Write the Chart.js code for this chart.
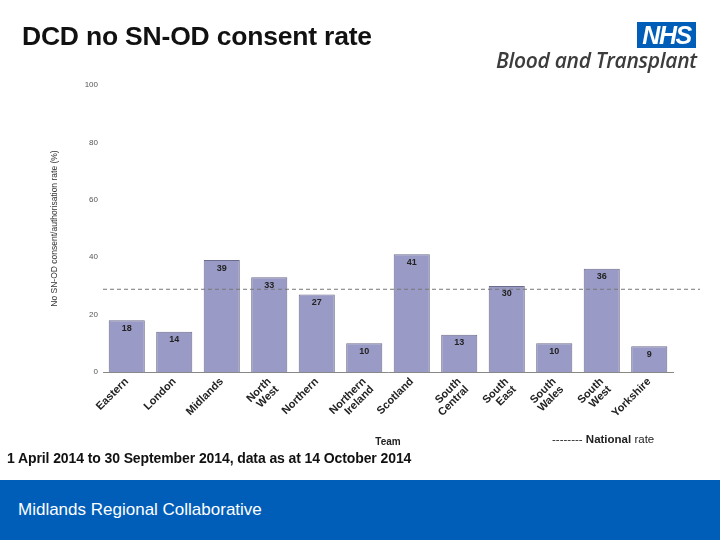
<!DOCTYPE html>
<html>
<head>
<meta charset="utf-8">
<script src="https://cdn.jsdelivr.net/npm/chart.js@4"></script>
<style>
  html, body { margin: 0; padding: 0; background: #fff; }
  body { width: 720px; height: 540px; position: relative; overflow: hidden; font-family: "Liberation Sans", Arial, sans-serif; }
  #chart { position: absolute; left: 0; top: 0; }
  .title { position: absolute; left: 22px; top: 21px; font-size: 26.5px; font-weight: bold; color: #111; letter-spacing: -0.2px; }
  .nhs { position: absolute; left: 637px; top: 22px; width: 59px; height: 26px; background: #005eb8; color: #fff;
         font: italic bold 25px "Liberation Sans", Arial, sans-serif; line-height: 27px; text-align: center; letter-spacing: -1.5px; }
  .bt { position: absolute; left: 496px; top: 46px; font: italic 600 21px "Open Sans", sans-serif; color: #3c3c3c; letter-spacing: -0.3px; }
  .legend { position: absolute; left: 552px; top: 433px; font-size: 11.5px; color: #222; }
  .legend b { font-weight: bold; }
  .sub { position: absolute; left: 7px; top: 450px; font-size: 14px; font-weight: bold; color: #111; letter-spacing: -0.1px; }
  .footer { position: absolute; left: 0; top: 480px; width: 720px; height: 60px; background: #005eb8; }
  .footer span { position: absolute; left: 18px; top: 20px; color: #fff; font-size: 17px; }
</style>
</head>
<body>
<canvas id="chart" width="720" height="540"></canvas>
<div class="title">DCD no SN-OD consent rate</div>
<div class="nhs">NHS</div>
<div class="bt">Blood and Transplant</div>
<div class="legend">-------- <b>National</b> rate</div>
<div class="sub">1 April 2014 to 30 September 2014, data as at 14 October 2014</div>
<div class="footer"><span>Midlands Regional Collaborative</span></div>
<script>
const teams = [['Eastern'], ['London'], ['Midlands'], ['North', 'West'], ['Northern'], ['Northern', 'Ireland'],
  ['Scotland'], ['South', 'Central'], ['South', 'East'], ['South', 'Wales'], ['South', 'West'], ['Yorkshire']];
const rates = [18, 14, 39, 33, 27, 10, 41, 13, 30, 10, 36, 9];
const nationalRate = 29;
const yTicks = [0, 20, 40, 60, 80, 100];

const extras = {
    id: 'extras',
    afterDatasetsDraw(chart) {
        const ctx = chart.ctx;
        const y = chart.scales.y;
        const area = chart.chartArea;
        const meta = chart.getDatasetMeta(0);
        ctx.save();
        ctx.font = 'bold 9px "Liberation Sans", Arial, sans-serif';
        ctx.fillStyle = '#222';
        ctx.textAlign = 'center';
        ctx.textBaseline = 'middle';
        meta.data.forEach((bar, i) => {
            ctx.fillText(rates[i], bar.x, bar.y + 8);
        });
        const ny = y.getPixelForValue(nationalRate);
        ctx.strokeStyle = '#777';
        ctx.lineWidth = 1;
        ctx.setLineDash([4, 3]);
        ctx.beginPath();
        ctx.moveTo(area.left, ny + 0.5);
        ctx.lineTo(area.right + 27, ny + 0.5);
        ctx.stroke();
        ctx.restore();
    }
};

new Chart(document.getElementById('chart'), {
    type: 'bar',
    data: {
        labels: teams,
        datasets: [{
            data: rates,
            backgroundColor: '#9a9ac6',
            borderColor: '#6c6c8c',
            borderWidth: 1,
            borderSkipped: 'bottom',
            categoryPercentage: 1,
            barPercentage: 0.76
        }]
    },
    options: {
        responsive: false,
        animation: false,
        layout: { padding: { left: 50, top: 85, right: 47, bottom: 92 } },
        plugins: { legend: { display: false }, tooltip: { enabled: false } },
        scales: {
            x: {
                grid: { display: false, drawTicks: false },
                border: { color: '#888' },
                ticks: {
                    minRotation: 45, maxRotation: 45, padding: 4,
                    color: '#222', font: { family: '"Liberation Sans", Arial', size: 11, weight: 'bold', lineHeight: 1.0 }
                },
                title: { display: true, text: 'Team', color: '#222', padding: { top: 4, bottom: 0 },
                    font: { family: '"Liberation Sans", Arial', size: 10, weight: 'bold' } },
                afterFit(s) { s.height = 76; }
            },
            y: {
                min: 0, max: 100,
                afterBuildTicks(s) { s.ticks = yTicks.map(v => ({ value: v })); },
                grid: { display: false, drawOnChartArea: false, drawTicks: true, tickLength: 3, tickColor: '#666' },
                border: { display: false },
                ticks: { color: '#555', padding: 2, font: { family: '"Liberation Sans", Arial', size: 8 } },
                title: { display: true, text: 'No SN-OD consent/authorisation rate (%)', color: '#333', padding: 0,
                    font: { family: '"Liberation Sans", Arial', size: 8.5 } },
                afterFit(s) { s.width = 53; }
            }
        }
    },
    plugins: [extras]
});
</script>
</body>
</html>
